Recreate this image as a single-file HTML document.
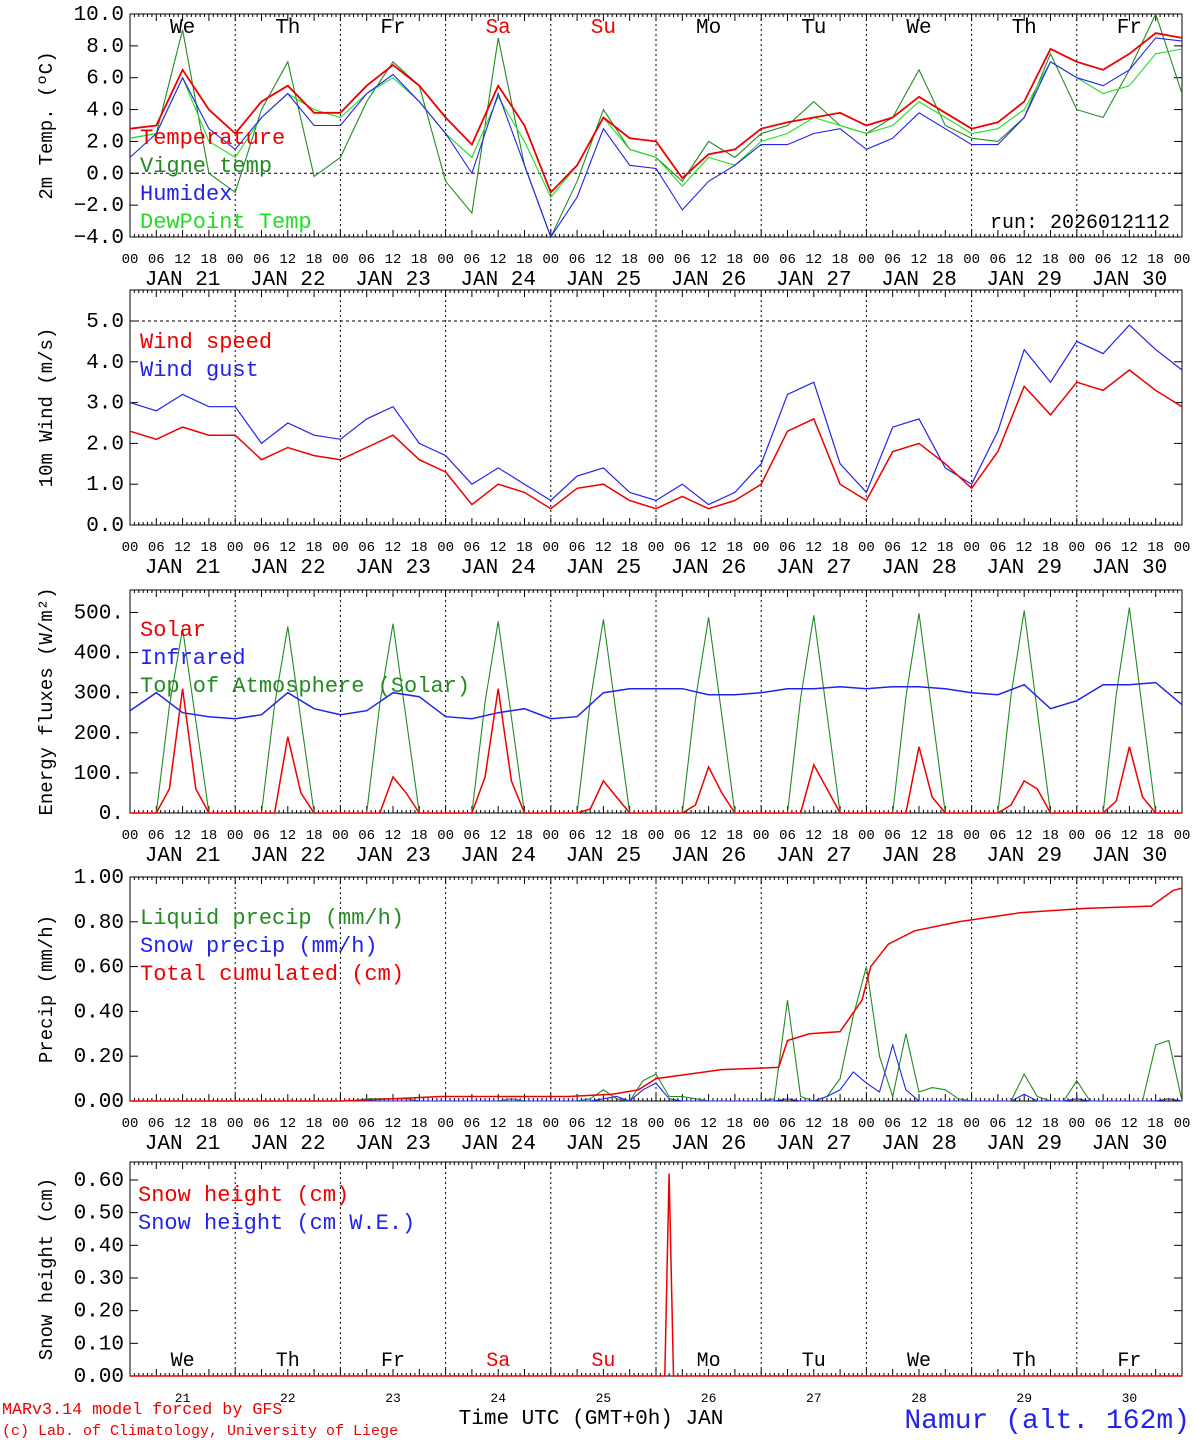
<!DOCTYPE html>
<html><head><meta charset="utf-8"><style>
html,body{margin:0;padding:0;background:#fff;}
svg{display:block;font-family:"Liberation Mono","DejaVu Sans Mono",monospace;}
</style></head><body>
<svg id="chart" width="1194" height="1440" xmlns="http://www.w3.org/2000/svg"></svg>
<script>
// ---- data (6-hourly unless noted, hours 0..240) ----
const dayLabels = ["JAN 21","JAN 22","JAN 23","JAN 24","JAN 25","JAN 26","JAN 27","JAN 28","JAN 29","JAN 30"];
const dayNames = ["We","Th","Fr","Sa","Su","Mo","Tu","We","Th","Fr"];
const dayNums = ["21","22","23","24","25","26","27","28","29","30"];
const hourLabels = ["00","06","12","18"];
const temperature = [2.8,3.0,6.5,4.0,2.5,4.5,5.5,3.8,3.8,5.5,6.8,5.5,3.5,1.8,5.5,3.0,-1.2,0.5,3.5,2.2,2.0,-0.3,1.2,1.5,2.8,3.2,3.5,3.8,3.0,3.5,4.8,3.8,2.8,3.2,4.5,7.8,7.0,6.5,7.5,8.8,8.5];
const humidex = [1.0,2.5,6.0,2.8,1.5,3.5,5.0,3.0,3.0,5.0,6.2,4.5,2.5,0.0,5.0,0.5,-4.0,-1.5,2.8,0.5,0.3,-2.3,-0.5,0.5,1.8,1.8,2.5,2.8,1.5,2.2,3.8,2.8,1.8,1.8,3.5,7.0,6.0,5.5,6.5,8.5,8.3];
const vigneTemp = [2.2,2.5,9.0,0.0,-1.2,4.0,7.0,-0.2,1.0,4.5,7.0,5.5,-0.5,-2.5,8.5,0.5,-4.0,-0.5,4.0,1.5,1.0,-0.5,2.0,1.0,2.5,3.0,4.5,3.0,2.5,3.5,6.5,3.0,2.2,2.0,3.5,7.5,4.0,3.5,6.5,10.0,5.0];
const dewPoint = [2.2,2.5,6.0,2.0,1.0,3.5,5.0,4.0,3.5,5.0,6.0,4.5,2.5,1.0,4.8,2.0,-1.5,0.5,3.5,1.5,1.0,-0.8,1.0,0.5,2.0,2.5,3.5,3.0,2.5,3.0,4.5,3.5,2.5,2.8,4.0,7.0,6.0,5.0,5.5,7.5,7.8];
const windSpeed = [2.3,2.1,2.4,2.2,2.2,1.6,1.9,1.7,1.6,1.9,2.2,1.6,1.3,0.5,1.0,0.8,0.4,0.9,1.0,0.6,0.4,0.7,0.4,0.6,1.0,2.3,2.6,1.0,0.6,1.8,2.0,1.5,0.9,1.8,3.4,2.7,3.5,3.3,3.8,3.3,2.9];
const windGust = [3.0,2.8,3.2,2.9,2.9,2.0,2.5,2.2,2.1,2.6,2.9,2.0,1.7,1.0,1.4,1.0,0.6,1.2,1.4,0.8,0.6,1.0,0.5,0.8,1.5,3.2,3.5,1.5,0.8,2.4,2.6,1.4,1.0,2.3,4.3,3.5,4.5,4.2,4.9,4.3,3.8];
const infrared = [255,300,250,240,235,245,300,260,245,255,300,290,240,235,250,260,235,240,300,310,310,310,295,295,300,310,310,315,310,315,315,310,300,295,320,260,280,320,320,325,270];
// 3-hourly, per day at 00,03,06,09,12,15,18,21
const toaPeak = [460,465,472,478,483,488,493,498,505,512];
const solar9 = [60,0,0,90,10,20,0,0,20,30];
const solar12 = [310,190,90,310,80,115,120,165,80,165];
const solar15 = [60,50,50,80,40,50,60,40,60,40];
// precip 3-hourly (81 points)
const liquidPrecip = [0,0,0,0,0,0,0,0, 0,0,0,0,0,0,0,0, 0,0,0.01,0.01,0.01,0.01,0,0, 0,0,0,0,0,0.01,0,0, 0,0,0,0.01,0.05,0.01,0,0.09, 0.12,0.02,0.02,0.01,0,0,0,0, 0,0.01,0.45,0.02,0,0.02,0.1,0.38, 0.6,0.2,0.02,0.3,0.04,0.06,0.05,0.01, 0,0,0,0,0.12,0.02,0,0, 0.09,0,0,0,0,0,0.25,0.27,0];
const snowPrecip = [0,0,0,0,0,0,0,0, 0,0,0,0,0,0,0,0, 0,0,0,0,0,0,0,0, 0,0,0,0,0,0,0,0, 0,0,0,0,0.01,0.02,0,0.05, 0.08,0.01,0,0,0,0,0,0, 0,0,0.01,0,0,0.02,0.05,0.13, 0.08,0.04,0.25,0.05,0,0,0,0, 0,0,0,0,0.03,0,0,0, 0.01,0,0,0,0,0,0,0.01,0];
const cumHours = [0,48,60,71,100,110,116,120,135,148,150,155,162,167,169,173,179,189,203,218,233,238,240];
const cumValues = [0,0,0.01,0.02,0.02,0.03,0.05,0.1,0.14,0.15,0.27,0.3,0.31,0.45,0.6,0.7,0.76,0.8,0.84,0.86,0.87,0.94,0.95];
const snowHours = [0,122,123,124,240];
const snowHeight = [0,0,0.62,0,0];

const svg=document.getElementById('chart');
const NS="http://www.w3.org/2000/svg";
function mk(tag,attrs,parent){const e=document.createElementNS(NS,tag);for(const k in attrs)e.setAttribute(k,attrs[k]);(parent||svg).appendChild(e);return e;}
function txt(s,x,y,size,fill,anchor,parent){const t=mk('text',{x:x,y:y,'font-size':size,fill:fill||'#000','text-anchor':anchor||'start'},parent);t.textContent=s;return t;}
const X0=130,X1=1182;
const xs=h=>X0+h*(X1-X0)/240;

const panels=[
 {name:'temperature-panel',top:14,bot:237,min:-4,max:10,ticks:[-4,-2,0,2,4,6,8,10],fmt:v=>(v<0?'−':'')+Math.abs(v).toFixed(1),label:'2m Temp. (ºC)',dash:0},
 {name:'wind-panel',top:290,bot:525,min:0,max:5.76,ticks:[0,1,2,3,4,5],fmt:v=>v.toFixed(1),label:'10m Wind (m/s)',dash:5},
 {name:'energy-panel',top:590,bot:813,min:0,max:556,ticks:[0,100,200,300,400,500],fmt:v=>v+'.',label:'Energy fluxes (W/m²)',dash:null},
 {name:'precip-panel',top:877,bot:1101,min:0,max:1.0,ticks:[0,0.2,0.4,0.6,0.8,1.0],fmt:v=>v.toFixed(2),label:'Precip (mm/h)',dash:null},
 {name:'snow-panel',top:1162,bot:1376,min:0,max:0.655,ticks:[0,0.1,0.2,0.3,0.4,0.5,0.6],fmt:v=>v.toFixed(2),label:'Snow height (cm)',dash:null}
];
panels.forEach((p,pi)=>{
 const g=mk('g',{});
 
 
 p.y=v=>p.bot-(v-p.min)/(p.max-p.min)*(p.bot-p.top);
 p.g=g;
 mk('rect',{x:X0,y:p.top,width:X1-X0,height:p.bot-p.top,fill:'none',stroke:'#000','stroke-width':1},g);
 for(let d=1;d<10;d++) mk('line',{x1:xs(d*24),x2:xs(d*24),y1:p.top,y2:p.bot,stroke:'#000','stroke-dasharray':'2,3','stroke-width':1},g);
 if(p.dash!==null) mk('line',{x1:X0,x2:X1,y1:p.y(p.dash),y2:p.y(p.dash),stroke:'#000','stroke-dasharray':'3,3','stroke-width':1},g);
 for(let h=0;h<=240;h++){
  const L=h%6===0?7:3;
  mk('line',{x1:xs(h),x2:xs(h),y1:p.top,y2:p.top+L,stroke:'#000','stroke-width':1},g);
  mk('line',{x1:xs(h),x2:xs(h),y1:p.bot,y2:p.bot-L,stroke:'#000','stroke-width':1},g);
 }
 const yl=mk('g',{},g);
 
 
 p.ticks.forEach(v=>{
  const y=p.y(v);
  mk('line',{x1:X0,x2:X0+8,y1:y,y2:y,stroke:'#000'},yl);
  mk('line',{x1:X1,x2:X1-8,y1:y,y2:y,stroke:'#000'},yl);
  txt(p.fmt(v),X0-6,y+6,21,'#000','end',yl);
 });
 const lab=txt(p.label,0,0,19,'#000','middle',g);
 lab.setAttribute('transform',`translate(52,${(p.top+p.bot)/2}) rotate(-90)`);
 
 
 const xa=mk('g',{},g);
 
 
 if(pi<4){
  for(let h=0;h<=240;h+=6) txt(hourLabels[(h/6)%4],xs(h),p.bot+26,14,'#000','middle',xa);
  dayLabels.forEach((d,i)=>txt(d,xs(i*24+12),p.bot+48,21,'#000','middle',xa));
 } else {
  dayNums.forEach((d,i)=>txt(d,xs(i*24+12),p.bot+26,13,'#000','middle',xa));
 }
});
function line(p,xsArr,vals,color,width,name){
 let d='';vals.forEach((v,i)=>{d+=(i?'L':'M')+xs(xsArr[i]).toFixed(1)+','+p.y(v).toFixed(1);});
 const e=mk('path',{d:d,fill:'none',stroke:color,'stroke-width':width||1.3},p.g);
 
 
}
const h6=temperature.map((_,i)=>i*6);
const h3=liquidPrecip.map((_,i)=>i*3);
const P=panels;
const LS=22;
// panel 1
line(P[0],h6,vigneTemp,'#228b22',1.1,'vigne-temp-line');
line(P[0],h6,dewPoint,'#22dd22',1.1,'dewpoint-line');
line(P[0],h6,humidex,'#2222ee',1.1,'humidex-line');
line(P[0],h6,temperature,'#ee0000',1.8,'temperature-line');
dayNames.forEach((n,i)=>txt(n,xs(i*24+12),33,21,(n==='Sa'||n==='Su')?'#ee0000':'#000','middle',P[0].g));
[['Temperature','#ee0000'],['Vigne temp','#228b22'],['Humidex','#2222ee'],['DewPoint Temp','#22dd22']].forEach((l,i)=>{const t=txt(l[0],140,144+i*28,LS,l[1],'start',P[0].g);});
txt('run: 2026012112',1170,228,20,'#000','end',P[0].g);
// panel 2
line(P[1],h6,windGust,'#2222ee',1.2,'wind-gust-line');
line(P[1],h6,windSpeed,'#ee0000',1.5,'wind-speed-line');
[['Wind speed','#ee0000'],['Wind gust','#2222ee']].forEach((l,i)=>{const t=txt(l[0],140,348+i*28,LS,l[1],'start',P[1].g);});
// panel 3
const toa=[],sol=[];
for(let d=0;d<10;d++){toa.push(0,0,0,toaPeak[d]*0.58,toaPeak[d],toaPeak[d]*0.5,0,0);sol.push(0,0,0,solar9[d],solar12[d],solar15[d],0,0);}
toa.push(0);sol.push(0);
line(P[2],h3,toa,'#228b22',1.1,'toa-solar-line');
line(P[2],h6,infrared,'#2222ee',1.5,'infrared-line');
line(P[2],h3,sol,'#ee0000',1.5,'solar-line');
[['Solar','#ee0000'],['Infrared','#2222ee'],['Top of Atmosphere (Solar)','#228b22']].forEach((l,i)=>{const t=txt(l[0],140,636+i*28,LS,l[1],'start',P[2].g);});
// panel 4
line(P[3],h3,liquidPrecip,'#228b22',1.1,'liquid-precip-line');
line(P[3],h3,snowPrecip,'#2222ee',1.1,'snow-precip-line');
line(P[3],cumHours,cumValues,'#ee0000',1.5,'total-cumulated-line');
[['Liquid precip (mm/h)','#228b22'],['Snow precip (mm/h)','#2222ee'],['Total cumulated (cm)','#ee0000']].forEach((l,i)=>{const t=txt(l[0],140,924+i*28,LS,l[1],'start',P[3].g);});
// panel 5
line(P[4],snowHours,snowHeight,'#ee0000',1.5,'snow-height-line');
[['Snow height (cm)','#ee0000'],['Snow height (cm W.E.)','#2222ee']].forEach((l,i)=>{const t=txt(l[0],138,1201+i*28,LS,l[1],'start',P[4].g);});
dayNames.forEach((n,i)=>txt(n,xs(i*24+12),1366,20,(n==='Sa'||n==='Su')?'#ee0000':'#000','middle',P[4].g));
// footer
const f1=txt('MARv3.14 model forced by GFS',2,1414,16.7,'#ee0000');

const f2=txt('(c) Lab. of Climatology, University of Liege',2,1435,15,'#ee0000');

const f3=txt('Time UTC (GMT+0h) JAN',591,1424,21,'#000','middle');

const f4=txt('Namur (alt. 162m)',1190,1428,28,'#2222ee','end');

</script>
</body></html>
